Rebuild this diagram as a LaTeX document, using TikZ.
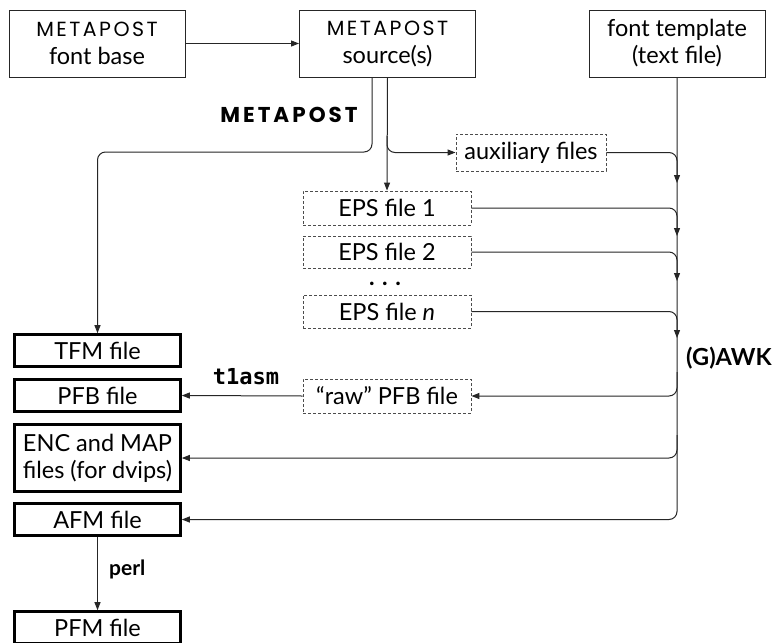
\documentclass[tikz,border=0pt]{standalone}
\usepackage{fontspec}
\setmainfont{Lato}
\newfontfamily\mpfont[LetterSpace=12]{Poppins}
\newfontfamily\mpboldfont[LetterSpace=14]{Poppins}
\newfontfamily\tafont{DejaVu Sans Mono}
\usetikzlibrary{arrows.meta,calc}
\begin{document}
\begin{tikzpicture}[x=1pt,y=-1pt,
  every node/.style={font=\fontsize{23.5}{27}\selectfont, align=center, inner sep=0pt},
  thinbox/.style={draw=black!85, line width=1pt, minimum width=176pt, minimum height=67pt},
  thickbox/.style={draw=black, line width=2.6pt, minimum width=166pt, minimum height=32pt},
  dashbox/.style={draw=black!70, line width=0.9pt, dash pattern=on 3pt off 2pt, minimum height=34pt},
  arr/.style={draw=black!85, line width=1pt, -{Triangle[length=8pt,width=6pt]}},
  lab/.style={font=\fontsize{23.5}{26}\selectfont\bfseries}
]
\useasboundingbox (0,0) rectangle (777,643);
\fill[white] (0,0) rectangle (777,643);
% top boxes
\node[thinbox] (base) at (97,43.5) {{\mpfont\fontsize{20.5}{22}\selectfont METAPOST}\\[1pt]font base};
\node[thinbox] (src) at (387.5,43.5) {{\mpfont\fontsize{20.5}{22}\selectfont METAPOST}\\[1pt]source(s)};
\node[thinbox] (tmpl) at (677,43.5) {font template\\(text file)};
% dashed boxes
\node[dashbox, minimum width=150pt, minimum height=37pt] (aux) at (531,152.5) {auxiliary files};
\node[dashbox, minimum width=168pt] (eps1) at (387,208) {EPS file 1};
\node[dashbox, minimum width=168pt, minimum height=32pt] (eps2) at (387,252) {EPS file 2};
\node[font=\fontsize{23.5}{26}\selectfont\bfseries, text height=3pt, text depth=0pt, anchor=base] (dots) at (385,285) {. . .};
\node[dashbox, minimum width=168pt, minimum height=33pt] (epsn) at (387,311.5) {EPS file \textit{n}};
\node[dashbox, minimum width=168pt] (raw) at (387,396) {“raw” PFB file};
% left output boxes
\node[thickbox] (tfm) at (97.5,350.5) {TFM file};
\node[thickbox] (pfb) at (97.5,395.5) {PFB file};
\node[thickbox, minimum height=67pt] (enc) at (97.5,458) {ENC and MAP\\files (for dvips)};
\node[thickbox] (afm) at (97.5,519.5) {AFM file};
\node[thickbox] (pfm) at (97.5,627.5) {PFM file};
% labels
\node[font=\mpboldfont\fontsize{21.5}{24}\selectfont\bfseries] (mplab) at (289,114.5) {METAPOST};
\node[lab, anchor=west] (awk) at (686,358) {(G)AWK};
\node[font=\tafont\fontsize{22}{24}\selectfont\bfseries] (t1) at (246,377) {t1asm};
\node[font=\fontsize{21}{24}\selectfont\bfseries, anchor=west] (perl) at (109,569) {perl};
% coordinates
\coordinate (s1) at (372,77);
\coordinate (k1) at (372,152);
\coordinate (br) at (387,136);
\coordinate (m1) at (677,183);
\coordinate (m2) at (677,236);
\coordinate (m3) at (677,281);
\coordinate (m4) at (677,338);
\coordinate (o1) at (677,372);
\coordinate (o2) at (677,435);
% connectors
\draw[arr] (base.east) -- (src.west);
\draw[arr, rounded corners=8pt] (s1) -- (k1) -| (tfm.north);
\draw[arr] (src.south) -- (eps1.north);
\draw[arr, rounded corners=8pt] (br) |- (aux.west);
\draw[arr, rounded corners=8pt] (tmpl.south) |- (afm.east);
\draw[arr, rounded corners=8pt] (aux.east) -| (m1);
\draw[arr, rounded corners=8pt] (eps1.east) -| (m2);
\draw[arr, rounded corners=8pt] (eps2.east) -| (m3);
\draw[arr, rounded corners=8pt] (epsn.east) -| (m4);
\draw[arr, rounded corners=8pt] (o1) |- (raw.east);
\draw[arr, rounded corners=8pt] (o2) |- (enc.east);
\draw[arr] (raw.west) -- (pfb.east);
\draw[arr] (afm.south) -- (pfm.north);
\end{tikzpicture}
\end{document}
